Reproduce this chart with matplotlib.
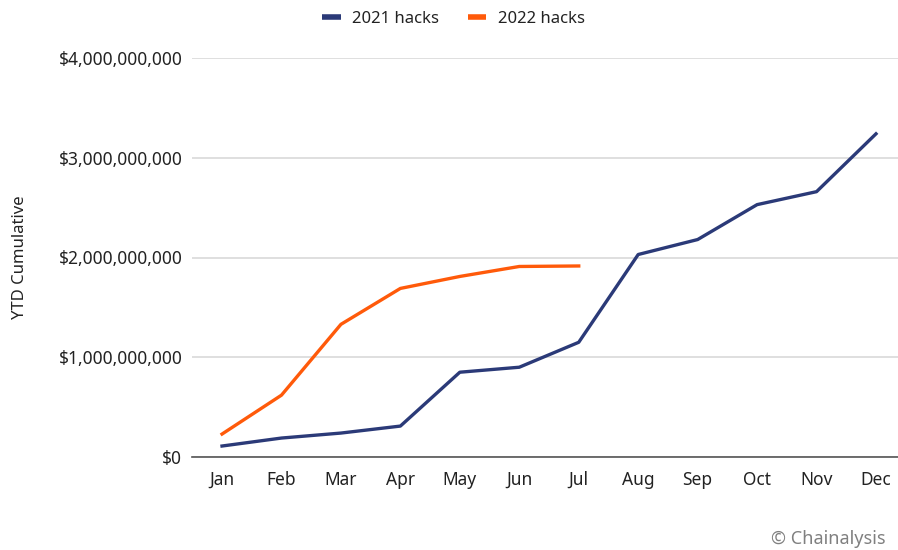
import matplotlib
matplotlib.use("Agg")
import matplotlib.pyplot as plt
from matplotlib.ticker import FuncFormatter

months = ["Jan", "Feb", "Mar", "Apr", "May", "Jun", "Jul", "Aug", "Sep", "Oct", "Nov", "Dec"]
hacks_2021 = [0.11e9, 0.19e9, 0.24e9, 0.31e9, 0.85e9, 0.90e9, 1.15e9, 2.03e9, 2.18e9, 2.53e9, 2.66e9, 3.24e9]
hacks_2022 = [0.23e9, 0.62e9, 1.33e9, 1.69e9, 1.81e9, 1.91e9, 1.915e9]
y_ticks = [0, 1e9, 2e9, 3e9, 4e9]

navy = "#2B3A78"
orange = "#FF5A0A"

plt.rcParams['font.family'] = ['Noto Sans', 'DejaVu Sans']

fig = plt.figure(figsize=(8.98, 5.5), dpi=100)
ax = fig.add_axes([192 / 898, 1 - 457 / 550, 1 - 192 / 898, (457 - 58) / 550])

x21 = list(range(len(hacks_2021)))
x22 = list(range(len(hacks_2022)))
ax.plot(x21, hacks_2021, color=navy, lw=2.4, label="2021 hacks", clip_on=False, solid_joinstyle="round")
ax.plot(x22, hacks_2022, color=orange, lw=2.4, label="2022 hacks", clip_on=False, solid_joinstyle="round")

ax.set_xlim(-0.505, 11.37)
ax.set_ylim(0, 4e9)
ax.set_yticks(y_ticks)
ax.yaxis.set_major_formatter(FuncFormatter(lambda v, p: "${:,.0f}".format(v)))
ax.set_xticks(x21)
ax.set_xticklabels(months)

ax.grid(axis="y", color="#D9D9D9", lw=1.2)
ax.set_axisbelow(True)
for s in ["top", "right", "left"]:
    ax.spines[s].set_visible(False)
ax.spines["bottom"].set_color("#555555")
ax.spines["bottom"].set_linewidth(1.2)
ax.tick_params(axis="both", length=0, labelsize=12.5, colors="#222222")
ax.tick_params(axis="y", pad=7)
ax.tick_params(axis="x", pad=10)

ax.set_ylabel("YTD Cumulative", fontsize=12, color="#222222")
ax.yaxis.set_label_coords(-(192 - 28) / 706, 0.5)

leg = fig.legend(loc="upper center", bbox_to_anchor=(0.505, 1.007), ncol=2, frameon=False,
                 fontsize=12, handlelength=1.1, handletextpad=0.7, columnspacing=1.7,
                 labelcolor="#222222")
for line in leg.get_lines():
    line.set_linewidth(4)
    line.set_solid_capstyle("butt")

fig.text(0.986, 0.003, "© Chainalysis", ha="right", va="bottom", fontsize=13, color="#808080")

fig.savefig("out.png", dpi=100)
